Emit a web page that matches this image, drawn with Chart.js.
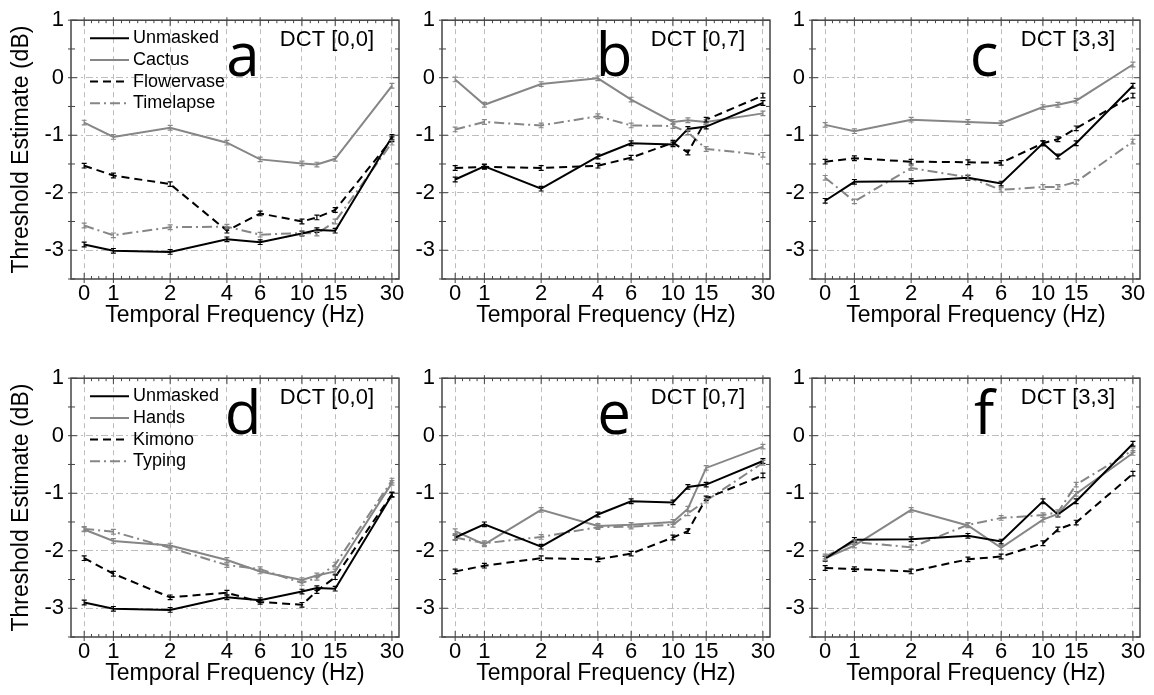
<!DOCTYPE html>
<html>
<head>
<meta charset="utf-8">
<script src="https://cdn.jsdelivr.net/npm/chart.js@4.4.1/dist/chart.umd.min.js"></script>
<style>
  body { margin: 0; background: #fff; width: 1154px; height: 695px; overflow: hidden; }
  canvas { position: absolute; }
</style>
</head>
<body>
<canvas id="pa" width="413" height="329" style="left:0px;top:0px"></canvas>
<canvas id="pb" width="413" height="329" style="left:371px;top:0px"></canvas>
<canvas id="pc" width="413" height="329" style="left:741px;top:0px"></canvas>
<canvas id="pd" width="413" height="329" style="left:0px;top:358px"></canvas>
<canvas id="pe" width="413" height="329" style="left:371px;top:358px"></canvas>
<canvas id="pf" width="413" height="329" style="left:741px;top:358px"></canvas>
<script>
// temporal frequencies measured (Hz) and the ones labelled on the axis
const FREQS = [0, 1, 2, 4, 6, 10, 12, 15, 30];
const TICK_FREQS = [0, 1, 2, 4, 6, 10, 15, 30];
const Y_TICKS = [-3, -2, -1, 0, 1];

// DCT [0,0]
const unmasked00 = [-2.90, -3.01, -3.03, -2.81, -2.86, -2.71, -2.65, -2.66, -1.03];
const cactus00 = [-0.78, -1.03, -0.87, -1.13, -1.42, -1.49, -1.51, -1.41, -0.14];
const flowervase00 = [-1.53, -1.70, -1.85, -2.66, -2.36, -2.50, -2.43, -2.30, -1.07];
const timelapse00 = [-2.57, -2.74, -2.60, -2.59, -2.73, -2.70, -2.71, -2.50, -1.13];
const hands00 = [-1.63, -1.83, -1.91, -2.16, -2.36, -2.51, -2.43, -2.36, -0.82];
const kimono00 = [-2.13, -2.40, -2.81, -2.73, -2.89, -2.94, -2.70, -2.46, -1.02];
const typing00 = [-1.62, -1.67, -1.95, -2.25, -2.32, -2.56, -2.47, -2.24, -0.78];

// DCT [0,7]
const unmasked07 = [-1.77, -1.54, -1.93, -1.37, -1.14, -1.16, -0.89, -0.85, -0.44];
const cactus07 = [-0.03, -0.47, -0.11, -0.01, -0.38, -0.77, -0.74, -0.77, -0.62];
const flowervase07 = [-1.57, -1.55, -1.57, -1.53, -1.39, -1.13, -1.30, -0.73, -0.31];
const timelapse07 = [-0.90, -0.77, -0.83, -0.67, -0.83, -0.84, -0.95, -1.24, -1.34];
const hands07 = [-1.66, -1.89, -1.29, -1.57, -1.55, -1.50, -1.27, -0.56, -0.19];
const kimono07 = [-2.36, -2.26, -2.13, -2.15, -2.05, -1.77, -1.66, -1.09, -0.69];
const typing07 = [-1.77, -1.87, -1.76, -1.59, -1.58, -1.55, -1.35, -1.13, -0.47];

// DCT [3,3]
const unmasked33 = [-2.14, -1.81, -1.80, -1.74, -1.84, -1.14, -1.37, -1.14, -0.14];
const cactus33 = [-0.82, -0.93, -0.73, -0.77, -0.79, -0.51, -0.47, -0.40, 0.23];
const flowervase33 = [-1.46, -1.40, -1.46, -1.47, -1.48, -1.14, -1.07, -0.88, -0.31];
const timelapse33 = [-1.74, -2.15, -1.57, -1.73, -1.95, -1.90, -1.90, -1.81, -1.11];
const hands33 = [-2.13, -1.91, -1.29, -1.56, -1.95, -1.46, -1.36, -1.01, -0.30];
const kimono33 = [-2.30, -2.32, -2.36, -2.15, -2.10, -1.87, -1.63, -1.51, -0.66];
const typing33 = [-2.10, -1.85, -1.94, -1.55, -1.43, -1.38, -1.33, -0.85, -0.25];

// approx. half-length of the error bars (dB)
const ERR = 0.04;

const BLACK = '#000000';
const GRAY = '#868686';
const SOLID = [];
const DASH = [8, 5];
const DASHDOT = [10, 4, 2, 4];

// 0 Hz sits half an octave left of 1 Hz on the log axis
const ZERO_POS = 0.7;
const xPos = f => f === 0 ? ZERO_POS : f;

Chart.defaults.font.family = '"Liberation Sans", Arial, Helvetica, sans-serif';
Chart.defaults.color = '#000';

const panelDecor = {
  id: 'panelDecor',
  afterDatasetsDraw(chart) {
    const {ctx, scales: {y}} = chart;
    ctx.save();
    ctx.lineWidth = 1.2;
    chart.data.datasets.forEach((ds, i) => {
      ctx.strokeStyle = ds.borderColor;
      ctx.beginPath();
      chart.getDatasetMeta(i).data.forEach((pt, j) => {
        const v = ds.data[j].y;
        const y1 = y.getPixelForValue(v + ERR), y2 = y.getPixelForValue(v - ERR);
        ctx.moveTo(pt.x, y1); ctx.lineTo(pt.x, y2);
        ctx.moveTo(pt.x - 2.5, y1); ctx.lineTo(pt.x + 2.5, y1);
        ctx.moveTo(pt.x - 2.5, y2); ctx.lineTo(pt.x + 2.5, y2);
      });
      ctx.stroke();
    });
    ctx.restore();
  },
  afterDraw(chart, args, opts) {
    const {ctx, chartArea: {left, right, top, bottom}, scales: {x, y}} = chart;
    ctx.save();
    // ticks on all four sides, pointing inward
    ctx.strokeStyle = '#444';
    ctx.lineWidth = 1;
    ctx.beginPath();
    TICK_FREQS.forEach((f, i) => {
      const px = x.getPixelForValue(xPos(f));
      ctx.moveTo(px, bottom + 4); ctx.lineTo(px, bottom - 6);
      ctx.moveTo(px, top - 3); ctx.lineTo(px, top + 6);
      if (i < TICK_FREQS.length - 1) {
        const nx = x.getPixelForValue(xPos(TICK_FREQS[i + 1]));
        const n = Math.max(2, Math.round((nx - px) / 8));
        for (let k = 1; k < n; k++) {
          const mx = px + (nx - px) * k / n;
          ctx.moveTo(mx, bottom); ctx.lineTo(mx, bottom - 3);
          ctx.moveTo(mx, top); ctx.lineTo(mx, top + 3);
        }
      }
    });
    for (let v = -3.5; v <= 1; v += 0.5) {
      const py = y.getPixelForValue(v);
      const len = Number.isInteger(v) ? 6 : 4;
      ctx.moveTo(left - 3, py); ctx.lineTo(left + len, py);
      ctx.moveTo(right, py); ctx.lineTo(right - len, py);
    }
    ctx.stroke();
    ctx.lineWidth = 1.5;
    ctx.strokeRect(left, top, right - left, bottom - top);

    // panel letter and DCT label
    ctx.fillStyle = '#000';
    ctx.textBaseline = 'alphabetic';
    ctx.textAlign = 'center';
    ctx.font = '60px "Open Sans"';
    ctx.fillText(opts.letter, left + 172, top + 56);
    ctx.textAlign = 'right';
    ctx.font = '22px "Liberation Sans", Arial';
    ctx.fillText(opts.dct, right - 25, top + 26);

    // legend
    if (opts.legend) {
      ctx.font = '18px "Liberation Sans", Arial';
      ctx.textAlign = 'left';
      ctx.textBaseline = 'middle';
      chart.data.datasets.forEach((ds, i) => {
        const ly = top + 18 + i * 21.7;
        ctx.strokeStyle = ds.borderColor;
        ctx.lineWidth = ds.borderWidth;
        ctx.setLineDash(ds.borderDash);
        ctx.beginPath();
        ctx.moveTo(left + 19, ly); ctx.lineTo(left + 58, ly);
        ctx.stroke();
        ctx.setLineDash([]);
        ctx.fillText(ds.label, left + 62, ly);
      });
    }
    ctx.restore();
  }
};
Chart.register(panelDecor);

function makePanel(id, letter, dct, series, showLegend, showYTitle) {
  return new Chart(document.getElementById(id), {
    type: 'line',
    data: {
      datasets: series.map(([label, values, color, dash]) => ({
        label,
        data: FREQS.map((f, i) => ({x: xPos(f), y: values[i]})),
        borderColor: color,
        borderDash: dash,
        borderWidth: 2,
        pointRadius: 0,
        tension: 0,
        fill: false,
      })),
    },
    options: {
      responsive: false,
      animation: false,
      devicePixelRatio: 1,
      layout: {padding: {top: 16, right: 14, left: 0, bottom: 0}},
      plugins: {
        legend: {display: false},
        tooltip: {enabled: false},
        panelDecor: {letter, dct, legend: showLegend},
      },
      scales: {
        x: {
          type: 'logarithmic',
          min: 0.596,
          max: 32.7,
          bounds: 'data',
          afterBuildTicks: ax => { ax.ticks = TICK_FREQS.map(f => ({value: xPos(f)})); },
          afterFit: ax => { ax.height = 50; },
          ticks: {
            autoSkip: false,
            maxRotation: 0,
            padding: 2,
            font: {size: 22},
            callback: (v, i) => String(TICK_FREQS[i]),
          },
          grid: {color: '#bdbdbd', lineWidth: 1, drawTicks: false},
          border: {display: false, dash: [5, 4]},
          title: {
            display: true,
            text: 'Temporal Frequency (Hz)',
            font: {size: 23},
            padding: {top: 0, bottom: 0},
          },
        },
        y: {
          min: -3.5,
          max: 1,
          bounds: 'data',
          afterBuildTicks: ax => { ax.ticks = Y_TICKS.map(v => ({value: v})); },
          afterFit: ax => { ax.width = 71; },
          ticks: {padding: 7, font: {size: 22}},
          grid: {color: '#bdbdbd', lineWidth: 1, drawTicks: false},
          border: {display: false, dash: [7, 3, 2, 3]},
          title: {
            display: showYTitle,
            text: 'Threshold Estimate (dB)',
            font: {size: 23},
            padding: {top: 8, bottom: 0},
          },
        },
      },
    },
  });
}

makePanel('pa', 'a', 'DCT [0,0]', [
  ['Unmasked', unmasked00, BLACK, SOLID],
  ['Cactus', cactus00, GRAY, SOLID],
  ['Flowervase', flowervase00, BLACK, DASH],
  ['Timelapse', timelapse00, GRAY, DASHDOT],
], true, true);
makePanel('pb', 'b', 'DCT [0,7]', [
  ['Unmasked', unmasked07, BLACK, SOLID],
  ['Cactus', cactus07, GRAY, SOLID],
  ['Flowervase', flowervase07, BLACK, DASH],
  ['Timelapse', timelapse07, GRAY, DASHDOT],
], false, false);
makePanel('pc', 'c', 'DCT [3,3]', [
  ['Unmasked', unmasked33, BLACK, SOLID],
  ['Cactus', cactus33, GRAY, SOLID],
  ['Flowervase', flowervase33, BLACK, DASH],
  ['Timelapse', timelapse33, GRAY, DASHDOT],
], false, false);
makePanel('pd', 'd', 'DCT [0,0]', [
  ['Unmasked', unmasked00, BLACK, SOLID],
  ['Hands', hands00, GRAY, SOLID],
  ['Kimono', kimono00, BLACK, DASH],
  ['Typing', typing00, GRAY, DASHDOT],
], true, true);
makePanel('pe', 'e', 'DCT [0,7]', [
  ['Unmasked', unmasked07, BLACK, SOLID],
  ['Hands', hands07, GRAY, SOLID],
  ['Kimono', kimono07, BLACK, DASH],
  ['Typing', typing07, GRAY, DASHDOT],
], false, false);
makePanel('pf', 'f', 'DCT [3,3]', [
  ['Unmasked', unmasked33, BLACK, SOLID],
  ['Hands', hands33, GRAY, SOLID],
  ['Kimono', kimono33, BLACK, DASH],
  ['Typing', typing33, GRAY, DASHDOT],
], false, false);
</script>
</body>
</html>
